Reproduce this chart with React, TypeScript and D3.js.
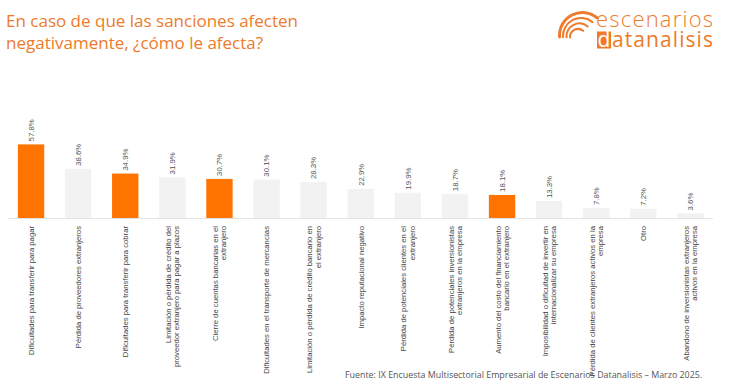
import React, { useEffect, useRef } from 'react';
import * as d3 from 'd3';

// categorias (saltos de linea como en el original)
const categories = [
  'Dificultades para transferir para pagar',
  'Pérdida de proveedores extranjeros',
  'Dificultades para transferir para cobrar',
  'Limitación o pérdida de crédito del\nproveedor extranjero para pagar a plazos',
  'Cierre de cuentas bancarias en el\nextranjero',
  'Dificultades en el transporte de mercancías',
  'Limitación o pérdida de crédito bancario en\nel extranjero',
  'Impacto reputacional negativo',
  'Pérdida de potenciales clientes en el\nextranjero',
  'Pérdida de potenciales inversionistas\nextranjeros en la empresa',
  'Aumento del costo del financiamiento\nbancario en el extranjero',
  'Imposibilidad o dificultad de invertir en\ninternacionalizar su empresa',
  'Pérdida de clientes extranjeros activos en la\nempresa',
  'Otro',
  'Abandono de inversionistas extranjeros\nactivos en la empresa',
];
const values = [57.8, 38.6, 34.9, 31.9, 30.7, 30.1, 28.3, 22.9, 19.9, 18.7, 18.1, 13.3, 7.8, 7.2, 3.6];
const highlighted = [0, 2, 4, 10];

const W = 732;
const H = 391;
const ORANGE = '#FF7300';
const TITLE_ORANGE = '#EE7A2A';

const App = () => {
  const ref = useRef<SVGSVGElement>(null);

  useEffect(() => {
    const svg = d3.select(ref.current);
    svg.selectAll('*').remove();

    // titulo
    const title = svg.append('text')
      .attr('x', 6)
      .attr('font-family', '"Open Sans", sans-serif')
      .attr('font-size', 17)
      .attr('fill', TITLE_ORANGE);
    ['En caso de que las sanciones afecten', 'negativamente, ¿cómo le afecta?'].forEach((t, i) => {
      title.append('tspan').attr('x', 6).attr('y', 27 + i * 21.5).text(t);
    });

    // logo
    const logo = svg.append('g');
    [8, 13, 18, 23].forEach((r, i) => {
      const p = d3.path();
      p.arc(578, 37, r, Math.PI * 0.98, Math.PI * 1.72);
      logo.append('path')
        .attr('d', p.toString())
        .attr('fill', 'none')
        .attr('stroke', TITLE_ORANGE)
        .attr('stroke-width', i === 3 ? 3 : 2)
        .attr('stroke-linecap', 'round')
        .attr('transform', `translate(${i * 1.5},${-i * 0.5})`);
    });
    logo.append('text')
      .attr('x', 596).attr('y', 27)
      .attr('font-family', '"Open Sans", sans-serif')
      .attr('font-weight', 300)
      .attr('font-size', 22)
      .attr('textLength', 117)
      .attr('fill', TITLE_ORANGE)
      .text('escenarios');
    logo.append('rect')
      .attr('x', 597).attr('y', 31.5).attr('width', 14).attr('height', 17)
      .attr('fill', TITLE_ORANGE);
    logo.append('text')
      .attr('x', 597.5).attr('y', 47)
      .attr('font-family', '"Open Sans", sans-serif')
      .attr('font-size', 21)
      .attr('fill', '#fff')
      .text('d');
    logo.append('text')
      .attr('x', 612).attr('y', 47)
      .attr('font-family', '"Open Sans", sans-serif')
      .attr('font-size', 21)
      .attr('textLength', 101)
      .attr('fill', TITLE_ORANGE)
      .text('atanalisis');

    // escalas
    const x = d3.scaleBand<number>()
      .domain(d3.range(values.length))
      .range([7.5, 714])
      .paddingInner(0.44)
      .paddingOuter(0.22);
    const y = d3.scaleLinear().domain([0, 60]).range([218, 141.6]);

    svg.append('line')
      .attr('x1', 8).attr('x2', 713)
      .attr('y1', y(0) + 0.5).attr('y2', y(0) + 0.5)
      .attr('stroke', '#e3e3e3');

    svg.append('g').selectAll('rect')
      .data(values)
      .join('rect')
      .attr('x', (_, i) => x(i)!)
      .attr('width', x.bandwidth())
      .attr('y', d => y(d))
      .attr('height', d => y(0) - y(d))
      .attr('fill', (_, i) => (highlighted.includes(i) ? ORANGE : '#F2F2F2'));

    // etiquetas de valor
    svg.append('g').selectAll('text')
      .data(values)
      .join('text')
      .attr('transform', (d, i) => `translate(${x(i)! + x.bandwidth() / 2 + 2.8},${y(d) - 3}) rotate(-90)`)
      .attr('font-family', '"Liberation Sans", Arial, sans-serif')
      .attr('font-size', 7.8)
      .attr('fill', '#555')
      .text(d => `${d.toFixed(1)}%`);

    // etiquetas de categoria
    const lh = 8.5;
    const cat = svg.append('g').selectAll('text')
      .data(categories)
      .join('text')
      .attr('transform', (_, i) => `translate(${x(i)! + x.bandwidth() / 2},226) rotate(-90)`)
      .attr('text-anchor', 'end')
      .attr('font-family', '"Liberation Sans", Arial, sans-serif')
      .attr('font-size', 7.7)
      .attr('fill', '#444');
    cat.each(function (d) {
      const lines = d.split('\n');
      const t = d3.select(this);
      lines.forEach((ln, j) => {
        t.append('tspan')
          .attr('x', 0)
          .attr('y', (j - (lines.length - 1) / 2) * lh + 2.8)
          .text(ln);
      });
    });

    // fuente
    svg.append('text')
      .attr('x', 345).attr('y', 378)
      .attr('font-family', '"Open Sans", sans-serif')
      .attr('font-size', 8.9)
      .attr('fill', '#555')
      .text('Fuente: IX Encuesta Multisectorial Empresarial de Escenarios Datanalisis – Marzo 2025.');
  }, []);

  return (
    <svg
      ref={ref}
      width={W}
      height={H}
      style={{ position: 'absolute', left: 0, top: 0, background: '#fff' }}
    />
  );
};

export default App;
